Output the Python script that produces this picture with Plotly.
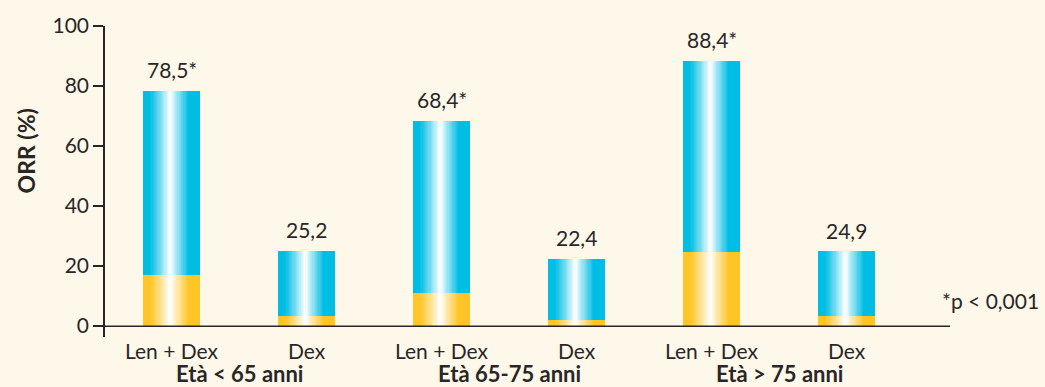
import plotly.graph_objects as go

# ---- data -------------------------------------------------------------
treatments = ["Len + Dex", "Dex", "Len + Dex", "Dex", "Len + Dex", "Dex"]
age_groups = ["Età < 65 anni", "Età 65-75 anni", "Età > 75 anni"]
orr_total = [78.5, 25.2, 68.4, 22.4, 88.4, 24.9]       # ORR (%) per bar
lower_part = [17.2, 3.3, 10.9, 2.0, 24.7, 3.3]         # orange bottom segment (%)
significant = [True, False, True, False, True, False]  # *p < 0,001
y_ticks = [0, 20, 40, 60, 80, 100]

# ---- style ------------------------------------------------------------
BG = "#fdf8ea"
INK = "#2a2627"
BLUE = (0, 189, 228)
ORANGE = (255, 196, 38)
FONT = "Lato"
BAR_W = 0.422
N_SLICES = 48

W, H = 1045, 387
M_L, M_R, M_T, M_B = 105, 95, 22, 50

xpos = list(range(len(treatments)))
upper_part = [t - b for t, b in zip(orr_total, lower_part)]


def shade(rgb, f):
    """Mix colour rgb toward white by fraction f (0 = colour, 1 = white)."""
    r, g, b = (round(c + (255 - c) * f) for c in rgb)
    return f"rgb({r},{g},{b})"


# white-fraction profile across a bar (0 = left edge, 1 = right edge)
PROFILE = [(0.0, 0.0), (0.12, 0.0), (0.30, 0.45), (0.47, 1.0),
           (0.50, 0.92), (0.62, 0.55), (0.80, 0.0), (1.0, 0.0)]


def white_frac(t):
    for (t0, f0), (t1, f1) in zip(PROFILE, PROFILE[1:]):
        if t0 <= t <= t1:
            return f0 + (f1 - f0) * (t - t0) / (t1 - t0) if t1 > t0 else f1
    return 0.0


fig = go.Figure()

# Each bar is drawn as thin vertical slices to get the cylinder-like shading
step = BAR_W / N_SLICES
for colour, heights, bases in ((ORANGE, lower_part, [0] * len(xpos)),
                               (BLUE, upper_part, lower_part)):
    for i in range(N_SLICES):
        t = (i + 0.5) / N_SLICES
        fig.add_trace(go.Bar(
            x=xpos, y=heights, base=bases,
            offset=-BAR_W / 2 + i * step,
            width=step * (1.0 if i == N_SLICES - 1 else 1.7),
            marker=dict(color=shade(colour, white_frac(t)), line=dict(width=0)),
            hoverinfo="skip", showlegend=False,
        ))

# value labels above the bars
labels = [f"{v:.1f}".replace(".", ",") + ("*" if s else "")
          for v, s in zip(orr_total, significant)]
for x, v, lab in zip(xpos, orr_total, labels):
    fig.add_annotation(
        x=x, y=v, xref="x", yref="y", text=lab, showarrow=False,
        xanchor="center", yanchor="middle", yshift=21,
        font=dict(family=FONT, size=21, color=INK),
    )

# x axis baseline at y = 0
fig.add_shape(type="line", xref="paper", yref="y", x0=0, x1=1, y0=0, y1=0,
              line=dict(color=INK, width=1.5))

plot_w = W - M_L - M_R
plot_h = H - M_T - M_B


def px_x(px):
    return (px - M_L) / plot_w


def px_y(py):
    return 1 - (py - M_T) / plot_h


# age group captions, centred under each pair of bars
for g, name in enumerate(age_groups):
    fig.add_annotation(
        x=2 * g + 0.5, xref="x", y=px_y(374), yref="paper",
        text=f"<b>{name}</b>", showarrow=False,
        xanchor="center", yanchor="middle",
        font=dict(family=FONT, size=22, color=INK),
    )

# y axis title
fig.add_annotation(
    x=px_x(26), xref="paper", y=px_y(149), yref="paper",
    text="<b>ORR (%)</b>", textangle=-90, showarrow=False,
    xanchor="center", yanchor="middle",
    font=dict(family=FONT, size=23, color=INK),
)

# significance footnote
fig.add_annotation(
    x=px_x(940), xref="paper", y=px_y(300), yref="paper",
    text="*p < 0,001", showarrow=False,
    xanchor="left", yanchor="middle",
    font=dict(family=FONT, size=21, color=INK),
)

fig.update_layout(
    width=W, height=H,
    margin=dict(l=M_L, r=M_R, t=M_T, b=M_B),
    paper_bgcolor=BG, plot_bgcolor=BG,
    barmode="overlay", bargap=0,
    font=dict(family=FONT, color=INK),
    xaxis=dict(
        range=[-0.4926, 5.7667], tickvals=xpos, ticktext=treatments,
        showline=False, showgrid=False, zeroline=False, ticks="",
        tickfont=dict(family=FONT, size=21, color=INK),
        fixedrange=True,
    ),
    yaxis=dict(
        range=[-3.62, 100], tickvals=y_ticks,
        showline=True, linecolor=INK, linewidth=1.5,
        ticks="outside", ticklen=10, tickwidth=1.5, tickcolor=INK,
        showgrid=False, zeroline=False,
        tickfont=dict(family=FONT, size=21, color=INK),
        fixedrange=True,
    ),
)

fig.write_html("out.html")
